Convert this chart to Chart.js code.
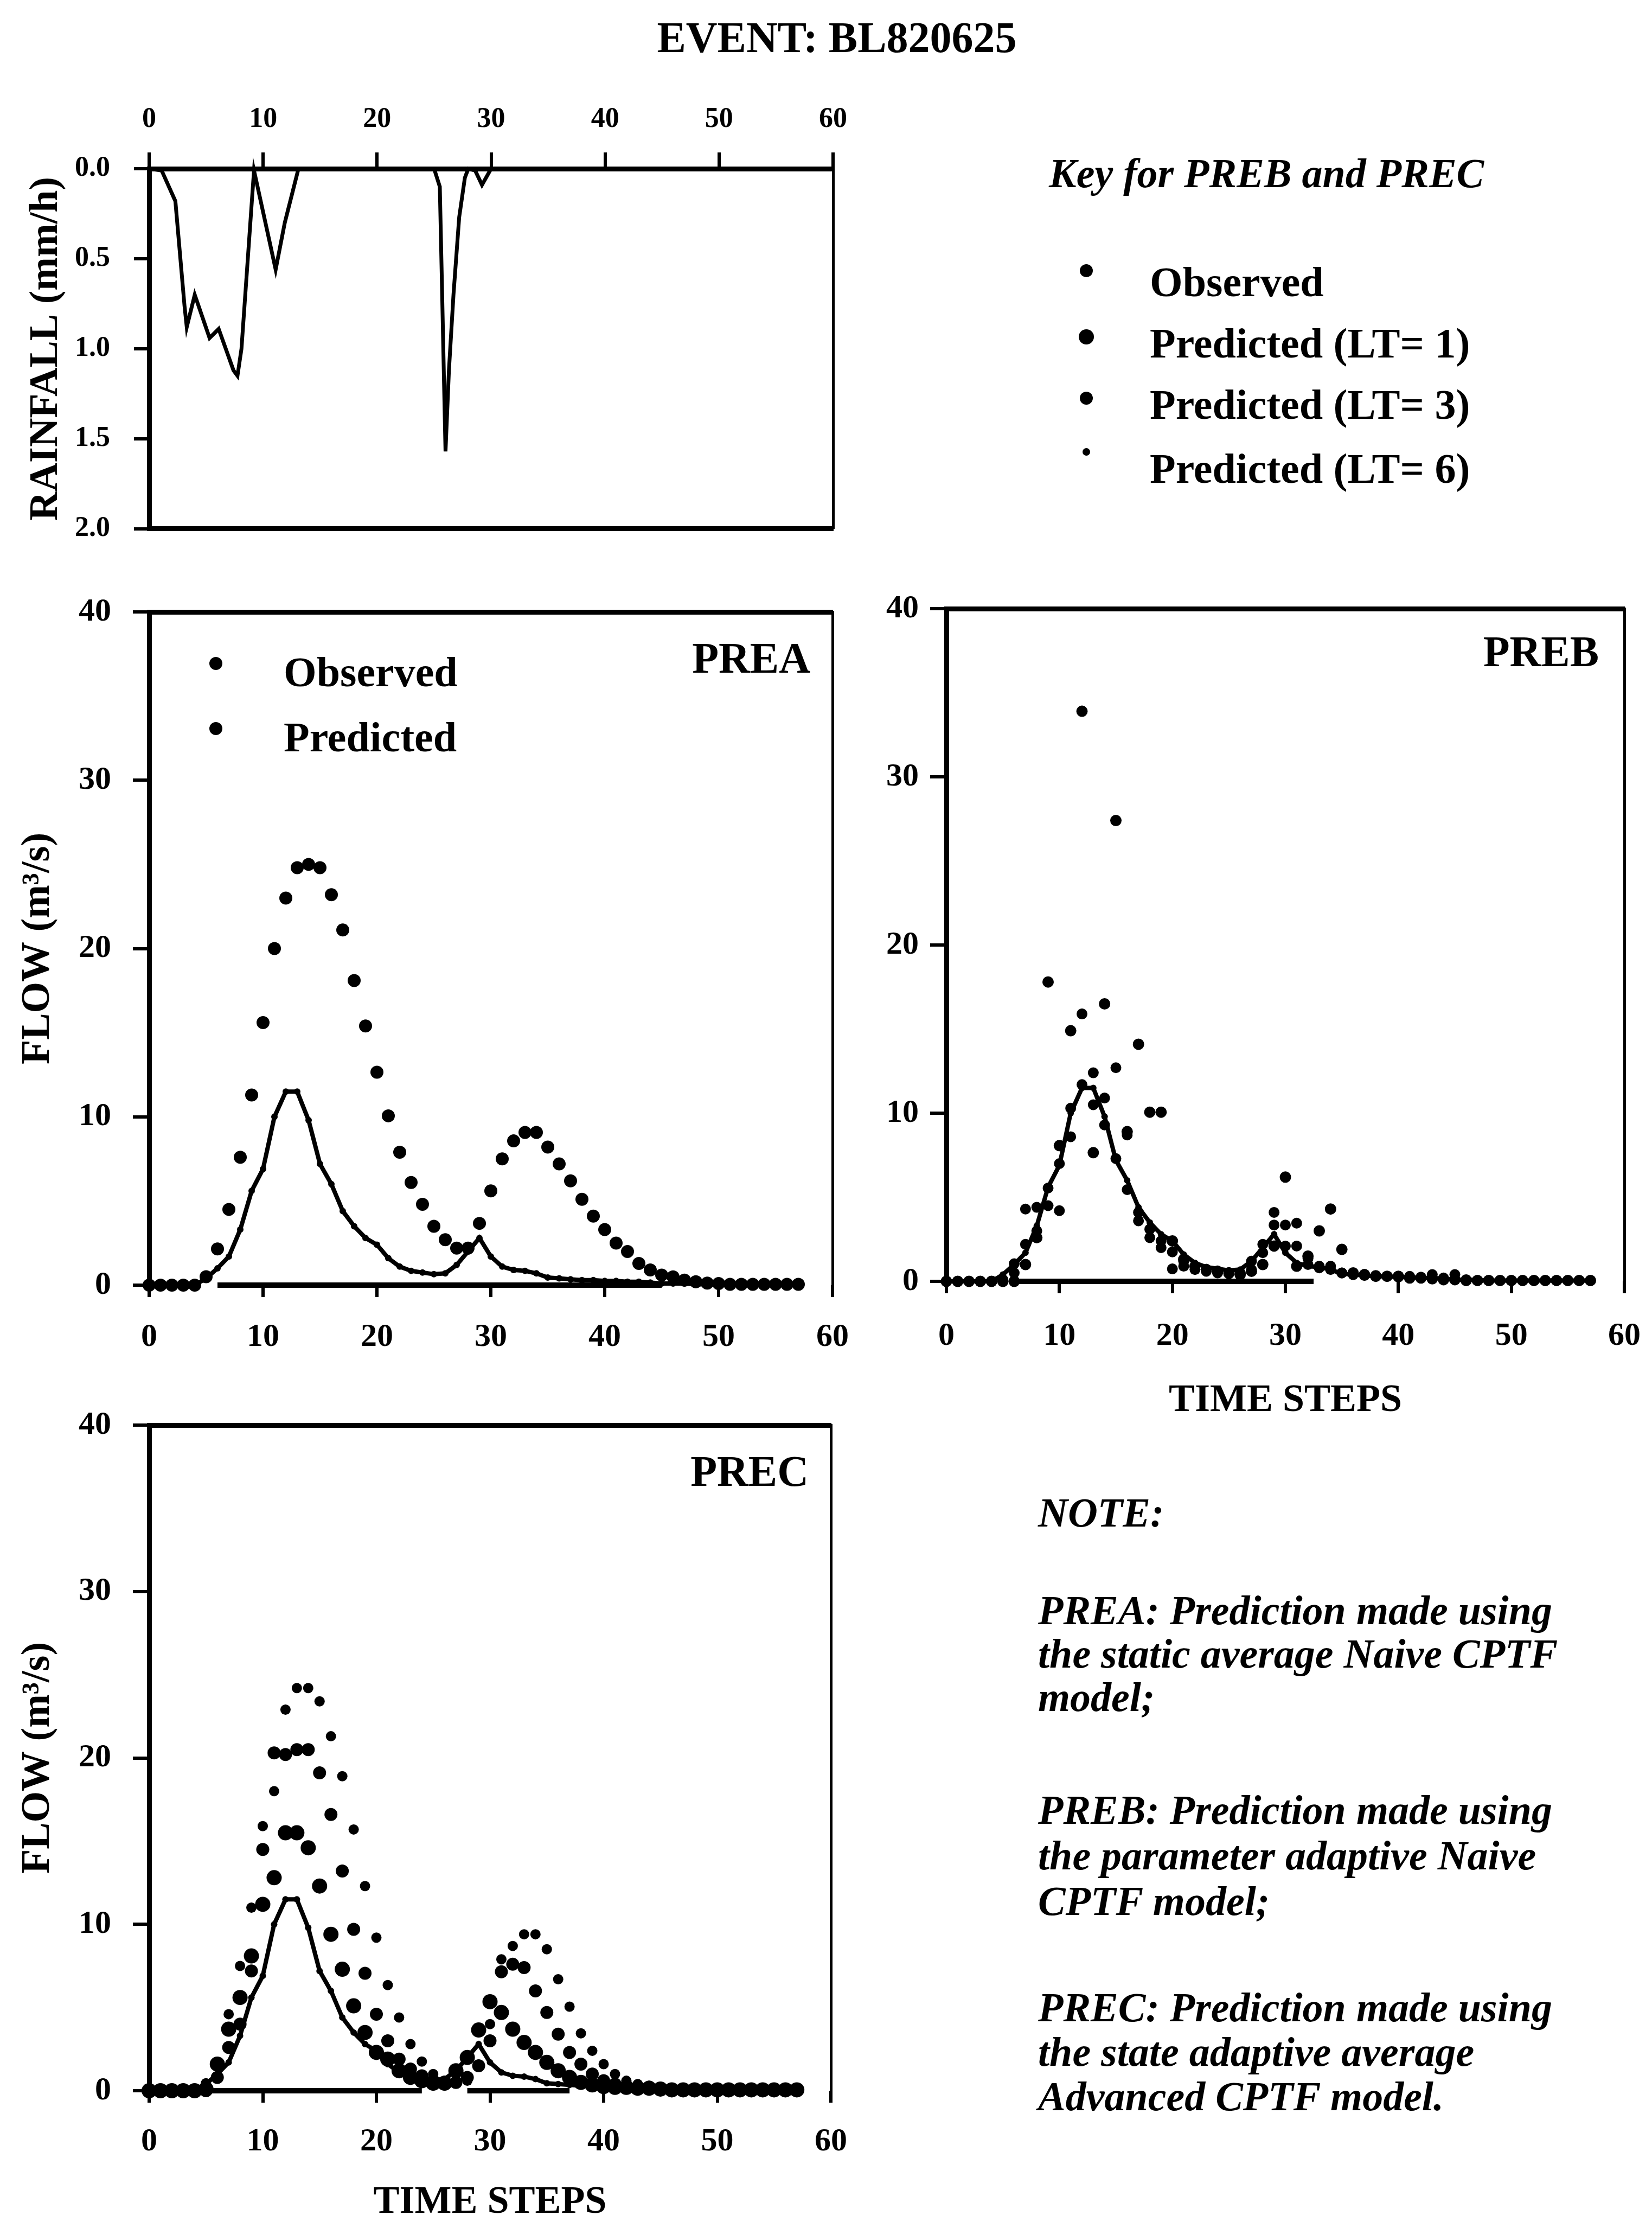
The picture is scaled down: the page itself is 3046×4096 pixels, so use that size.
<!DOCTYPE html>
<html>
<head>
<meta charset="utf-8">
<script src="https://cdn.jsdelivr.net/npm/chart.js@4/dist/chart.umd.min.js"></script>
<style>
  html, body { margin: 0; padding: 0; background: #fff; overflow: hidden; }
  #page { position: relative; width: 3046px; height: 4096px; overflow: hidden; background: #fff; }
  #page canvas { position: absolute; }
  #notes { position: absolute; left: 0; top: 0; }
</style>
</head>
<body>
<div id="page">
  <svg id="notes" width="3046" height="4096" xmlns="http://www.w3.org/2000/svg">
    <g font-family="Liberation Serif" fill="#000">
      <text x="1543" y="96" text-anchor="middle" font-size="80" font-weight="bold">EVENT: BL820625</text>

      <text x="1934" y="345" font-size="76" font-weight="bold" font-style="italic">Key for PREB and PREC</text>
      <circle cx="2003" cy="499" r="12"/>
      <circle cx="2003" cy="621" r="14"/>
      <circle cx="2003" cy="734" r="12"/>
      <circle cx="2003" cy="833" r="7"/>
      <g font-size="78" font-weight="bold">
        <text x="2120" y="546">Observed</text>
        <text x="2120" y="659">Predicted (LT= 1)</text>
        <text x="2120" y="772">Predicted (LT= 3)</text>
        <text x="2120" y="890">Predicted (LT= 6)</text>
      </g>

      <g font-size="76" font-weight="bold" font-style="italic" style="white-space:pre">
        <text x="1914" y="2814">NOTE:</text>
        <text x="1914" y="2994">PREA:  Prediction made using</text>
        <text x="1914" y="3074">the static average Naive CPTF</text>
        <text x="1914" y="3154">model;</text>
        <text x="1914" y="3362">PREB:  Prediction made using</text>
        <text x="1914" y="3446">the parameter adaptive Naive</text>
        <text x="1914" y="3530">CPTF model;</text>
        <text x="1914" y="3726">PREC:  Prediction made using</text>
        <text x="1914" y="3808">the state adaptive average</text>
        <text x="1914" y="3890">Advanced CPTF model.</text>
      </g>
    </g>
  </svg>
  <canvas id="rainChart" width="1610" height="1050" style="left:0px;top:0px"></canvas>
  <canvas id="preaChart" width="1610" height="1479" style="left:0px;top:1040px"></canvas>
  <canvas id="prebChart" width="1480" height="1612" style="left:1600px;top:1040px"></canvas>
  <canvas id="precChart" width="1610" height="1556" style="left:0px;top:2540px"></canvas>
</div>

<script>
// ---- data -------------------------------------------------------------
const timeSteps = [0,1,2,3,4,5,6,7,8,9,10,11,12,13,14,15,16,17,18,19,20,21,22,23,24,25,26,27,28,29,
                   30,31,32,33,34,35,36,37,38,39,40,41,42,43,44,45,46,47,48,49,50,51,52,53,54,55,56,57];

const timeTicks = [0, 10, 20, 30, 40, 50, 60];
const flowTicks = [0, 10, 20, 30, 40];
const rainTicks = [0, 0.5, 1.0, 1.5, 2.0];

// rainfall hyetograph (mm/h) at the listed times
const rainTime      = [0, 1.1, 2.3, 3.1, 3.3, 4.0, 5.3, 6.1, 7.4, 7.75, 8.1, 9.2, 11.1, 11.9, 13.1,
                       25.0, 25.5, 25.7, 26.0, 26.3, 26.7, 27.2, 27.7, 28.0, 28.6, 29.2, 30.0, 60];
const rainIntensity = [0, 0.01, 0.18, 0.76, 0.88, 0.70, 0.94, 0.89, 1.12, 1.15, 1.0, 0.01, 0.56, 0.30, 0,
                       0, 0.10, 0.68, 1.57, 1.12, 0.70, 0.27, 0.05, 0, 0.01, 0.09, 0, 0];

// observed flow (m3/s)
const observedFlow = [0,0,0,0,0,0.4,1.0,1.7,3.3,5.6, 6.9,10.0,11.5,11.5,9.8,7.2,6.0,4.4,3.5,2.8,
                      2.4,1.6,1.1,0.85,0.75,0.65,0.7,1.2,2.0,2.8, 1.7,1.1,0.9,0.85,0.7,0.45,0.4,0.35,0.3,0.3,
                      0.25,0.25,0.2,0.2,0.15,0.1,0.1,0.1,0.05,0.05, 0.05,0.05,0.05,0.05,0.05,0.05,0.05,0.05];

// PREA: static average Naive CPTF
const preaPredicted = [0,0,0,0,0,0.5,2.15,4.5,7.6,11.3, 15.6,20.0,23.0,24.8,25.0,24.8,23.2,21.1,18.1,15.4,
                       12.65,10.06,7.9,6.1,4.8,3.5,2.7,2.2,2.2,3.67, 5.6,7.5,8.57,9.07,9.07,8.2,7.2,6.2,5.1,4.1,
                       3.3,2.5,2.0,1.29,0.9,0.6,0.49,0.3,0.2,0.12, 0.1,0.05,0.05,0.05,0.05,0.05,0.05,0.05];

// PREB: parameter adaptive Naive CPTF
const prebLT1 = [0,0,0,0,0,0.1,1.05,2.2,3.0,5.55, 7.0,10.3,11.7,12.4,10.9,7.3,5.45,4.1,3.1,2.4,
                 1.75,1.2,0.9,0.7,0.55,0.5,0.5,1.2,2.2,4.1, 3.35,2.1,1.0,0.9,0.7,0.5,0.45,0.4,0.35,0.3,
                 0.3,0.3,0.25,0.2,0.15,0.1,0.05,0.05,0.05,0.05, 0.05,0.05,0.05,0.05,0.05,0.05,0.05,0.05];
const prebLT3 = [0,0,0,0,0,0,0.5,4.3,4.4,4.5, 4.2,8.6,15.9,10.5,9.3,12.7,8.7,3.6,2.6,2.0,
                 0.74,0.9,0.7,0.6,0.5,0.45,0.5,0.7,1.7,3.35, 2.1,3.46,1.36,0.8,0.9,0.5,0.4,0.35,0.3,0.3,
                 0.25,0.25,0.2,0.4,0.2,0.4,0.1,0.05,0.05,0.05, 0.05,0.05,0.05,0.05,0.05,0.05,0.05,0.05];
const prebLT6 = [0,0,0,0,0,0,0,1.0,2.6,17.8, 8.07,14.9,33.9,7.65,16.5,27.4,8.9,14.1,10.06,10.06,
                 2.4,1.3,0.9,0.7,0.6,0.5,0.4,0.6,1.0,2.1, 6.2,0.9,1.5,3.0,4.3,1.9,0.5,0.4,0.3,0.3,
                 0.3,0.2,0.2,0.15,0.1,0.1,0.05,0.05,0.05,0.05, 0.05,0.05,0.05,0.05,0.05,0.05,0.05,0.05];

// PREC: state adaptive average Advanced CPTF
const precLT1 = [0,0,0,0,0,0.1,1.6,3.7,5.6,8.1, 11.2,12.8,15.5,15.5,14.6,12.3,9.4,7.3,5.1,3.5,
                 2.3,1.9,1.2,0.8,0.6,0.45,0.45,1.2,2.0,3.65, 5.35,4.7,3.7,2.9,2.3,1.7,1.2,0.8,0.5,0.35,
                 0.25,0.2,0.2,0.15,0.15,0.1,0.05,0.05,0.05,0.05, 0.05,0.05,0.05,0.05,0.05,0.05,0.05,0.05];
const precLT3 = [0,0,0,0,0,0,0.8,2.6,4.0,7.2, 14.5,20.3,20.2,20.5,20.5,19.1,16.6,13.2,9.7,7.06,
                 4.6,3.0,1.9,1.3,0.9,0.6,0.5,0.5,0.8,1.5, 3.0,7.15,7.6,7.4,6.0,4.7,3.4,2.3,1.6,1.0,
                 0.6,0.4,0.3,0.2,0.2,0.15,0.1,0.1,0.1,0.1, 0.1,0.1,0.1,0.1,0.1,0.1,0.1,0.1];
const precLT6 = [0,0,0,0,0,0.45,1.5,4.6,7.5,11.0, 15.9,18.0,22.9,24.2,24.2,23.4,21.3,18.9,15.7,12.3,
                 9.2,6.35,4.4,2.8,1.75,1.0,0.6,0.5,0.6,1.5, 4.0,7.9,8.7,9.4,9.4,8.5,6.7,5.05,3.45,2.4,
                 1.6,1.0,0.6,0.4,0.3,0.2,0.15,0.15,0.15,0.15, 0.15,0.15,0.15,0.15,0.15,0.15,0.15,0.15];

// stretches of the zero baseline drawn as a heavy rule
const preaZeroSpans = [[6, 45]];
const prebZeroSpans = [[6, 32.5]];
const precZeroSpans = [[0.5, 24], [28, 37]];

// ---- styling helpers ---------------------------------------------------
const FONT = 'Liberation Serif';
const BLACK = '#000';
Chart.defaults.font.family = FONT;
Chart.defaults.color = BLACK;

const fixedSize = size => s => { if (s.isHorizontal()) s.height = size; else s.width = size; };
const useTicks = values => s => { s.ticks = values.map(v => ({ value: v })); };

function frameAxis(position, size, width, dash) {
  return {
    type: 'linear', position, display: true, min: 0, max: 1,
    ticks: { display: false },
    grid: { display: false, drawTicks: false },
    border: { display: width > 0, color: BLACK, width: Math.max(width, 1), dash: dash || [] },
    afterFit: fixedSize(size)
  };
}

function valueAxis(o) {
  return {
    type: 'linear', position: 'left', min: o.min, max: o.max, reverse: !!o.reverse,
    afterBuildTicks: useTicks(o.ticks),
    ticks: { color: BLACK, autoSkip: false, padding: o.pad,
             font: { family: FONT, weight: 'bold', size: o.fontSize },
             callback: o.format || (v => String(v)) },
    grid: { display: true, drawOnChartArea: false, drawTicks: true, tickLength: o.tickLen,
            color: BLACK, lineWidth: 6 },
    border: { display: true, color: BLACK, width: 9 },
    title: o.title ? { display: true, text: o.title, color: BLACK,
                       font: { family: FONT, weight: 'bold', size: o.titleSize, lineHeight: 1.2 },
                       padding: { top: o.titlePad, bottom: 0 } } : { display: false },
    afterFit: fixedSize(o.width)
  };
}

function timeAxis(o) {
  return {
    type: 'linear', position: o.position, min: 0, max: 60,
    afterBuildTicks: useTicks(timeTicks),
    ticks: { color: BLACK, autoSkip: false, maxRotation: 0, padding: o.pad,
             font: { family: FONT, weight: 'bold', size: o.fontSize } },
    grid: { display: true, drawOnChartArea: false, drawTicks: true, tickLength: o.tickLen,
            color: BLACK, lineWidth: 6 },
    border: { display: !!o.border, color: BLACK, width: o.border || 1 },
    title: o.title ? { display: true, text: o.title, color: BLACK,
                       font: { family: FONT, weight: 'bold', size: o.titleSize, lineHeight: 1.0 },
                       padding: { top: 0, bottom: o.titlePad } } : { display: false },
    afterFit: fixedSize(o.height)
  };
}

// panel name and in-panel key
const panelLabels = {
  id: 'panelLabels',
  afterDatasetsDraw(chart, args, o) {
    if (!o || !o.name) return;
    const { ctx, chartArea: a } = chart;
    ctx.save();
    ctx.fillStyle = BLACK;
    ctx.textBaseline = 'alphabetic';
    ctx.font = o.nameFont;
    ctx.textAlign = 'right';
    ctx.fillText(o.name, a.right - o.nameInset[0], a.top + o.nameInset[1]);
    (o.keyItems || []).forEach((item, i) => {
      const y = a.top + o.keyTop + i * o.keyGap;
      ctx.beginPath();
      ctx.arc(a.left + o.keyDotX, y, item.r, 0, Math.PI * 2);
      ctx.fill();
      ctx.font = o.keyFont;
      ctx.textAlign = 'left';
      ctx.fillText(item.text, a.left + o.keyTextX, y + o.keyDrop);
    });
    ctx.restore();
  }
};
Chart.register(panelLabels);

const points = values => timeSteps.map((t, i) => ({ x: t, y: values[i] }));

function observedSet() {
  return { label: 'Observed', data: points(observedFlow), showLine: true,
           borderColor: BLACK, borderWidth: 8, pointRadius: 6, pointBackgroundColor: BLACK,
           pointBorderWidth: 0, clip: false };
}
function predictedSet(label, values, radius) {
  return { label, data: points(values), showLine: false, pointRadius: radius,
           pointBackgroundColor: BLACK, pointBorderColor: BLACK, pointBorderWidth: 0, clip: false };
}
function zeroSets(spans) {
  return spans.map(s => ({ label: 'zero', data: [{ x: s[0], y: 0 }, { x: s[1], y: 0 }],
                           showLine: true, borderColor: BLACK, borderWidth: 10, pointRadius: 0, clip: false }));
}

const baseOptions = {
  responsive: false, animation: false, devicePixelRatio: 1, events: [],
  layout: { padding: 0 },
  plugins: { legend: { display: false }, tooltip: { enabled: false } }
};

function flowChart(id, g, datasets, labels) {
  return new Chart(document.getElementById(id), {
    type: 'scatter',
    data: { datasets },
    options: Object.assign({}, baseOptions, {
      plugins: Object.assign({}, baseOptions.plugins, { panelLabels: labels }),
      scales: {
        x: timeAxis({ position: 'bottom', fontSize: 60, tickLen: 22, pad: g.xPad, height: g.bottom,
                      title: g.xTitle, titleSize: 72, titlePad: g.xTitlePad }),
        y: valueAxis({ min: 0, max: 40, ticks: flowTicks, fontSize: 60, tickLen: 30, pad: g.yPad,
                       width: g.left, title: g.yTitle, titleSize: 74, titlePad: 26 }),
        xTop: frameAxis('top', g.top, 9),
        yRight: frameAxis('right', g.right, g.rightWidth, g.rightDash)
      }
    })
  });
}

// ---- rainfall panel ----------------------------------------------------
new Chart(document.getElementById('rainChart'), {
  type: 'scatter',
  data: {
    datasets: [{
      label: 'Rainfall',
      data: rainTime.map((t, i) => ({ x: t, y: rainIntensity[i] })),
      showLine: true, borderColor: BLACK, borderWidth: 7, pointRadius: 0, clip: false
    }]
  },
  options: Object.assign({}, baseOptions, {
    scales: {
      x: timeAxis({ position: 'top', fontSize: 52, tickLen: 30, pad: 29, height: 311, border: 9 }),
      y: valueAxis({ min: 0, max: 2, reverse: true, ticks: rainTicks, fontSize: 52, tickLen: 28, pad: 44,
                     width: 275, title: 'RAINFALL (mm/h)', titleSize: 74, titlePad: 41,
                     format: v => Number(v).toFixed(1) }),
      xBottom: frameAxis('bottom', 75, 9),
      yRight: frameAxis('right', 74, 5, [30, 14])
    }
  })
});

// ---- flow panels -------------------------------------------------------
flowChart('preaChart',
  { left: 275, top: 88, right: 75, bottom: 150, xPad: 38, yPad: 40, yTitle: 'FLOW (m³/s)',
    rightWidth: 5 },
  [...zeroSets(preaZeroSpans), observedSet(), predictedSet('Predicted', preaPredicted, 12)],
  { name: 'PREA', nameFont: 'bold 80px "Liberation Serif"', nameInset: [41, 112],
    keyItems: [{ text: 'Observed', r: 12 }, { text: 'Predicted', r: 12 }],
    keyTop: 95, keyGap: 120, keyDotX: 123, keyTextX: 248, keyDrop: 42,
    keyFont: 'bold 78px "Liberation Serif"' });

flowChart('prebChart',
  { left: 145, top: 82, right: 85, bottom: 290, xPad: 43, yPad: 21, xTitle: 'TIME STEPS', xTitlePad: 34,
    rightWidth: 5 },
  [...zeroSets(prebZeroSpans), observedSet(),
   predictedSet('Predicted (LT= 1)', prebLT1, 10),
   predictedSet('Predicted (LT= 3)', prebLT3, 10),
   predictedSet('Predicted (LT= 6)', prebLT6, 10.5)],
  { name: 'PREB', nameFont: 'bold 80px "Liberation Serif"', nameInset: [47, 106] });

flowChart('precChart',
  { left: 275, top: 87, right: 78, bottom: 242, xPad: 36, yPad: 40, yTitle: 'FLOW (m³/s)',
    xTitle: 'TIME STEPS', xTitlePad: 0, rightWidth: 5, rightDash: [40, 10] },
  [...zeroSets(precZeroSpans), observedSet(),
   predictedSet('Predicted (LT= 1)', precLT1, 14),
   predictedSet('Predicted (LT= 3)', precLT3, 12),
   predictedSet('Predicted (LT= 6)', precLT6, 9.5)],
  { name: 'PREC', nameFont: 'bold 80px "Liberation Serif"', nameInset: [41, 112] });
</script>
</body>
</html>
